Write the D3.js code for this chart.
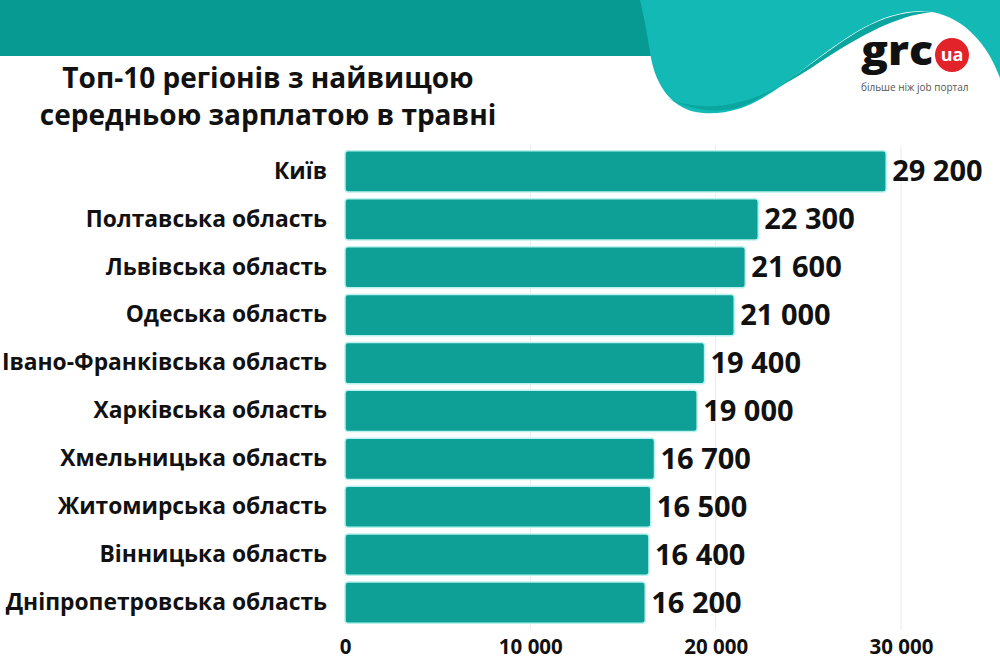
<!DOCTYPE html>
<html><head><meta charset="utf-8">
<script src="https://cdn.jsdelivr.net/npm/d3@7"></script>
<style>html,body{margin:0;padding:0;background:#fff;}svg{display:block;}</style>
</head><body>
<svg id="c" width="1000" height="665"></svg>
<script>
const categories = ["Київ","Полтавська область","Львівська область","Одеська область","Івано-Франківська область","Харківська область","Хмельницька область","Житомирська область","Вінницька область","Дніпропетровська область"];
const values = [29200,22300,21600,21000,19400,19000,16700,16500,16400,16200];
const ticks = [0,10000,20000,30000];
const titleLines = ["Топ-10 регіонів з найвищою","середньою зарплатою в травні"];

const svg = d3.select("#c");
const font = "'Open Sans', 'Noto Sans', sans-serif";
const fmt = v => d3.format(",")(v).replace(/,/g, " ");

// header decoration
svg.append("rect").attr("x",0).attr("y",0).attr("width",680).attr("height",56).attr("fill","#069a93");
svg.append("path").attr("fill","#13bab5")
  .attr("d","M640,0 L1000,0 L1000,78 C988,45 965,18 932,12 C885,6 845,38 805,68 C772,94 742,116 703,113 C672,111 656,85 651,58 C648,40 645,20 640,0 Z");
svg.append("path").attr("fill","#0aa59e")
  .attr("d","M662,96 C690,110 720,116 748,104 C790,85 830,45 870,25 C895,13 915,11 932,12 C895,16 860,36 820,62 C785,86 750,104 715,106 C695,107 675,103 662,96 Z");

// logo
svg.append("text").attr("x",861).attr("y",65).attr("font-family",font).attr("font-weight",800)
  .attr("font-size",40).attr("fill","#111").attr("textLength",72).attr("lengthAdjust","spacingAndGlyphs").text("grc");
svg.append("circle").attr("cx",952).attr("cy",55).attr("r",17).attr("fill","#e2232a");
svg.append("text").attr("x",952).attr("y",61).attr("text-anchor","middle").attr("font-family",font)
  .attr("font-weight",700).attr("font-size",18).attr("fill","#fff").text("ua");
svg.append("text").attr("x",861).attr("y",91).attr("font-family",font).attr("font-size",10)
  .attr("fill","#555").text("більше ніж job портал");

// title
svg.append("g").selectAll("text").data(titleLines).join("text")
  .attr("x",268).attr("y",(d,i)=>88+i*37).attr("text-anchor","middle")
  .attr("font-family",font).attr("font-weight",700).attr("font-size",28).attr("fill","#111").text(d=>d);

const x = d3.scaleLinear().domain([0,30000]).range([345,901]);
const y = d3.scaleBand().domain(categories).range([147.5,626.5]).paddingInner(0.14).paddingOuter(0.07);

// grid
svg.append("g").selectAll("line").data(ticks.slice(1)).join("line")
  .attr("x1",d=>x(d)).attr("x2",d=>x(d)).attr("y1",145).attr("y2",630)
  .attr("stroke","#ececec").attr("stroke-width",1);

// bars
svg.append("g").selectAll("rect").data(values).join("rect")
  .attr("x",x(0)).attr("y",(d,i)=>y(categories[i]))
  .attr("width",d=>x(d)-x(0)).attr("height",y.bandwidth())
  .attr("rx",3).attr("fill","#0e9f96").attr("stroke","#b9f1ee").attr("stroke-width",1.5);

// value labels
svg.append("g").selectAll("text").data(values).join("text")
  .attr("x",d=>x(d)+6).attr("y",(d,i)=>y(categories[i])+y.bandwidth()/2+10)
  .attr("font-family",font).attr("font-weight",700).attr("font-size",29).attr("fill","#111").text(fmt);

// category axis
const ya = d3.axisLeft(y).tickSize(0).tickPadding(18);
const gy = svg.append("g").attr("transform",`translate(${x(0)},0)`).call(ya);
gy.select(".domain").remove();
gy.selectAll("text").attr("font-family",font).attr("font-weight",700).attr("font-size",22.8).attr("fill","#111");

// x axis
const xa = d3.axisBottom(x).tickValues(ticks).tickSize(0).tickPadding(0).tickFormat(fmt);
const gx = svg.append("g").attr("transform","translate(0,636)").call(xa);
gx.select(".domain").remove();
gx.selectAll("text").attr("font-family",font).attr("font-weight",700).attr("font-size",20.5).attr("fill","#111").attr("dy","0.9em");
</script>
</body></html>
